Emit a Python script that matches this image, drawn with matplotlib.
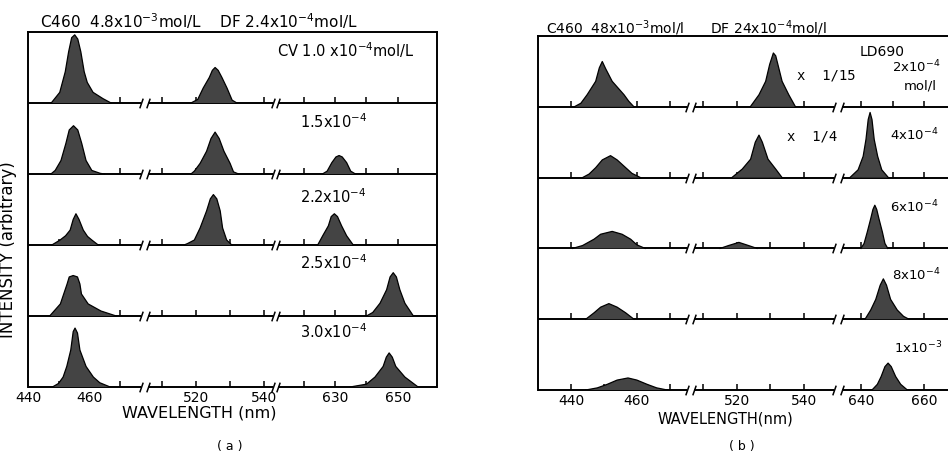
import numpy as np
import matplotlib
matplotlib.use("Agg")
import matplotlib.pyplot as plt
from matplotlib.path import Path

plt.rcParams['font.family'] = ['DejaVu Sans']

# ---------------- data ----------------
# Panel (a): visible wavelength segments (nm) of the broken axis
a_segments = [(440.0, 477.0), (505.9, 542.6), (611.9, 662.4)]
a_small_ticks = [450, 460, 470, 510, 520, 530, 540, 620, 630, 640, 650]
a_tick_labels = [440, 460, 520, 540, 630, 650]
a_row_labels = ["CV 1.0 x10$^{-4}$mol/L", "1.5x10$^{-4}$", "2.2x10$^{-4}$",
                "2.5x10$^{-4}$", "3.0x10$^{-4}$"]

# Panel (a) spectra: wavelength (nm) and intensity (fraction of strip height)
a1_c460_wl = [447.6, 450.4, 452.2, 453.3, 454.3, 455.3, 456.3, 457.3, 458.4, 459.4, 461.3, 464.6, 467.2]
a1_c460_i = [0, 0.15, 0.44, 0.72, 0.92, 0.96, 0.90, 0.72, 0.44, 0.29, 0.15, 0.06, 0]
a1_df_wl = [518.5, 520.5, 522.1, 523.9, 524.8, 525.6, 526.5, 527.6, 529.1, 530.6, 532.0]
a1_df_i = [0, 0.05, 0.21, 0.36, 0.46, 0.50, 0.46, 0.36, 0.21, 0.04, 0]

a2_c460_wl = [447.5, 448.9, 450.8, 452.4, 453.5, 454.9, 456.3, 457.6, 459.0, 460.9, 463.6, 465.0]
a2_c460_i = [0, 0.05, 0.19, 0.43, 0.62, 0.68, 0.62, 0.43, 0.19, 0.05, 0.01, 0]
a2_df_wl = [518.5, 519.5, 521.2, 523.1, 524.4, 525.6, 526.8, 528.2, 530.0, 531.0, 532.5]
a2_df_i = [0, 0.04, 0.15, 0.32, 0.50, 0.59, 0.50, 0.32, 0.15, 0.03, 0]
a2_cv_wl = [626.0, 627.5, 629.0, 630.3, 631.3, 632.3, 633.7, 635.0, 636.5]
a2_cv_i = [0, 0.04, 0.16, 0.24, 0.26, 0.24, 0.16, 0.04, 0]

a3_c460_wl = [447.8, 450.5, 452.3, 453.8, 454.8, 455.7, 456.7, 458.1, 459.5, 460.9, 463.0]
a3_c460_i = [0, 0.07, 0.13, 0.21, 0.36, 0.44, 0.36, 0.21, 0.12, 0.07, 0]
a3_df_wl = [516.5, 517.5, 519.5, 521.2, 523.1, 524.2, 525.1, 526.1, 527.1, 527.8, 529.0, 530.5]
a3_df_i = [0, 0.02, 0.07, 0.24, 0.48, 0.65, 0.71, 0.65, 0.48, 0.24, 0.07, 0]
a3_cv_wl = [624.5, 626.1, 627.9, 628.8, 629.8, 630.8, 632.1, 633.7, 635.8]
a3_cv_i = [0, 0.13, 0.27, 0.40, 0.44, 0.40, 0.27, 0.13, 0]

a4_c460_wl = [447.1, 450.6, 451.7, 452.8, 453.5, 454.8, 456.2, 457.0, 457.5, 459.7, 463.9, 468.9]
a4_c460_i = [0, 0.17, 0.31, 0.45, 0.55, 0.57, 0.55, 0.45, 0.31, 0.17, 0.07, 0]
a4_cv_wl = [640.0, 642.0, 644.3, 646.4, 647.5, 648.5, 649.5, 650.6, 652.2, 654.9]
a4_cv_i = [0, 0.05, 0.18, 0.37, 0.55, 0.61, 0.55, 0.37, 0.18, 0]

a5_c460_wl = [448.0, 450.0, 451.5, 452.7, 454.0, 454.8, 455.4, 456.2, 457.0, 459.0, 461.4, 463.5, 466.9]
a5_c460_i = [0, 0.05, 0.14, 0.29, 0.52, 0.78, 0.83, 0.76, 0.52, 0.29, 0.14, 0.06, 0]
a5_cv_wl = [634.8, 640.0, 642.7, 645.3, 646.3, 647.2, 648.2, 649.3, 652.2, 656.4]
a5_cv_i = [0, 0.04, 0.14, 0.29, 0.42, 0.48, 0.42, 0.29, 0.14, 0]

# Panel (b)
b_segments = [(430.0, 475.2), (507.2, 549.0), (634.0, 667.9)]
b_small_ticks = [440, 450, 460, 470, 510, 520, 530, 540, 640, 650, 660]
b_tick_labels = [440, 460, 520, 540, 640, 660]
b_row_labels = ["2x10$^{-4}$", "4x10$^{-4}$", "6x10$^{-4}$", "8x10$^{-4}$", "1x10$^{-3}$"]

b1_c460_wl = [441.0, 443.0, 444.9, 447.5, 448.6, 449.5, 450.5, 452.5, 456.1, 457.5, 459.1]
b1_c460_i = [0, 0.05, 0.17, 0.36, 0.55, 0.64, 0.54, 0.36, 0.17, 0.08, 0]
b1_df_wl = [524.0, 526.6, 528.6, 529.8, 530.9, 531.6, 532.5, 533.5, 535.5, 537.5]
b1_df_i = [0, 0.17, 0.36, 0.60, 0.76, 0.72, 0.55, 0.36, 0.17, 0]

b2_c460_wl = [443.5, 445.5, 447.5, 449.5, 452.0, 454.0, 456.6, 458.5, 461.1]
b2_c460_i = [0, 0.05, 0.14, 0.25, 0.31, 0.25, 0.14, 0.06, 0]
b2_df_wl = [518.5, 521.6, 524.1, 525.5, 526.6, 527.6, 529.3, 531.6, 533.5]
b2_df_i = [0, 0.12, 0.26, 0.50, 0.60, 0.50, 0.26, 0.12, 0]
b2_ld_wl = [636.5, 639.1, 640.7, 641.6, 642.3, 642.9, 643.5, 644.2, 645.3, 646.6, 648.7]
b2_ld_i = [0, 0.11, 0.30, 0.54, 0.82, 0.92, 0.82, 0.54, 0.30, 0.11, 0]

b3_c460_wl = [440.5, 443.5, 447.0, 449.0, 452.5, 455.5, 458.1, 460.0, 462.5]
b3_c460_i = [0, 0.04, 0.13, 0.20, 0.24, 0.20, 0.13, 0.05, 0]
b3_df_wl = [515.0, 517.5, 520.6, 523.5, 526.0]
b3_df_i = [0, 0.04, 0.085, 0.04, 0]
b3_ld_wl = [640.0, 641.0, 642.0, 643.1, 643.8, 644.4, 645.0, 645.7, 646.8, 647.6, 648.5]
b3_ld_i = [0, 0.07, 0.23, 0.42, 0.55, 0.61, 0.55, 0.42, 0.23, 0.07, 0]

b4_c460_wl = [444.5, 447.0, 449.0, 451.5, 454.0, 456.6, 459.1]
b4_c460_i = [0, 0.09, 0.17, 0.22, 0.17, 0.09, 0]
b4_ld_wl = [641.3, 643.1, 644.7, 646.1, 647.1, 648.1, 649.4, 651.5, 653.5, 655.2]
b4_ld_i = [0, 0.13, 0.28, 0.48, 0.57, 0.48, 0.28, 0.13, 0.04, 0]

b5_c460_wl = [444.5, 448.0, 451.0, 454.0, 457.3, 460.0, 463.1, 466.0, 469.2]
b5_c460_i = [0, 0.03, 0.08, 0.14, 0.17, 0.14, 0.08, 0.03, 0]
b5_ld_wl = [643.5, 645.2, 646.4, 647.6, 648.6, 649.6, 651.0, 652.6, 654.7]
b5_ld_i = [0, 0.08, 0.19, 0.33, 0.38, 0.33, 0.19, 0.08, 0]

a_rows = [
    [(a1_c460_wl, a1_c460_i), (a1_df_wl, a1_df_i)],
    [(a2_c460_wl, a2_c460_i), (a2_df_wl, a2_df_i), (a2_cv_wl, a2_cv_i)],
    [(a3_c460_wl, a3_c460_i), (a3_df_wl, a3_df_i), (a3_cv_wl, a3_cv_i)],
    [(a4_c460_wl, a4_c460_i), (a4_cv_wl, a4_cv_i)],
    [(a5_c460_wl, a5_c460_i), (a5_cv_wl, a5_cv_i)],
]
b_rows = [
    [(b1_c460_wl, b1_c460_i), (b1_df_wl, b1_df_i)],
    [(b2_c460_wl, b2_c460_i), (b2_df_wl, b2_df_i), (b2_ld_wl, b2_ld_i)],
    [(b3_c460_wl, b3_c460_i), (b3_df_wl, b3_df_i), (b3_ld_wl, b3_ld_i)],
    [(b4_c460_wl, b4_c460_i), (b4_ld_wl, b4_ld_i)],
    [(b5_c460_wl, b5_c460_i), (b5_ld_wl, b5_ld_i)],
]

# ---------------- layout ----------------
W, H = 948, 456
FILL = '#444444'
LW = 1.4


def broken_scale(segments, frac_knots):
    wk = np.array([v for s in segments for v in s], float)
    fk = np.array(frac_knots, float)
    s0 = (fk[1] - fk[0]) / (wk[1] - wk[0])
    s1 = (fk[-1] - fk[-2]) / (wk[-1] - wk[-2])

    def fwd(x):
        x = np.asarray(x, float)
        y = np.interp(x, wk, fk)
        y = np.where(x < wk[0], fk[0] + (x - wk[0]) * s0, y)
        y = np.where(x > wk[-1], fk[-1] + (x - wk[-1]) * s1, y)
        return y

    def inv(y):
        y = np.asarray(y, float)
        x = np.interp(y, fk, wk)
        x = np.where(y < fk[0], wk[0] + (y - fk[0]) / s0, x)
        x = np.where(y > fk[-1], wk[-1] + (y - fk[-1]) / s1, x)
        return x
    return fwd, inv


brk = Path([(-0.35, -1.0), (0.35, 1.0)], [Path.MOVETO, Path.LINETO])


def draw_panel(ax, segments, frac_knots, small_ticks, tick_labels, rows):
    fwd, inv = broken_scale(segments, frac_knots)
    ax.set_xscale('function', functions=(fwd, inv))
    ax.set_xlim(segments[0][0], segments[-1][1])
    ax.set_ylim(0, 5)
    for sp in ['left', 'right', 'top']:
        ax.spines[sp].set_linewidth(LW)
    ax.spines['bottom'].set_visible(False)
    ax.set_yticks([])
    ax.set_xticks(tick_labels, [str(t) for t in tick_labels])
    ax.tick_params(axis='x', length=0, pad=2, labelsize=10)
    for y0 in range(5):
        for (s, e) in segments:
            ax.plot([s, e], [y0, y0], color='k', lw=LW, zorder=2,
                    solid_capstyle='butt', clip_on=False)
        ends = [segments[0][1], segments[1][0], segments[1][1], segments[2][0]]
        ax.plot(ends, [y0] * 4, ls='none', marker=brk, ms=7, mec='k',
                mfc='none', mew=1.1, zorder=2, clip_on=False)
        ax.vlines(small_ticks, y0, y0 + 0.085, color='k', lw=1.1, zorder=2)
    for k, peaks in enumerate(rows):
        y0 = 4 - k
        for wl, inten in peaks:
            yy = y0 + np.asarray(inten)
            ax.fill_between(wl, y0, yy, facecolor=FILL, edgecolor='none', zorder=3)
            ax.plot(wl, yy, color='k', lw=0.9, zorder=4)


fig = plt.figure(figsize=(W / 100, H / 100), dpi=100)

# panel (a): box 28..437 px, 33..388 px
axa = fig.add_axes([28 / W, 1 - 388 / H, 409 / W, 355 / H])
draw_panel(axa, a_segments, np.array([0, 113, 120, 245, 250, 409]) / 409,
           a_small_ticks, a_tick_labels, a_rows)
a_label_pos = [(0.609, 4.76), (0.665, 3.75), (0.665, 2.70), (0.665, 1.76), (0.665, 0.79)]
for (x, y), lab in zip(a_label_pos, a_row_labels):
    axa.text(x, y, lab, transform=axa.get_yaxis_transform(), fontsize=10.5,
             va='center', ha='left')
axa.set_xlabel("WAVELENGTH (nm)", fontsize=11.5)
axa.xaxis.set_label_coords(0.418, -0.050)
axa.set_ylabel("INTENSITY (arbitrary)", fontsize=12)
axa.yaxis.set_label_coords(-0.026, 0.39)

# panel (b): box 538..949 px, 37..391 px
axb = fig.add_axes([538 / W, 1 - 391 / H, 411 / W, 354 / H])
draw_panel(axb, b_segments, np.array([0, 149, 156, 296, 304, 411]) / 411,
           b_small_ticks, b_tick_labels, b_rows)
b_label_pos = [(0.862, 4.58), (0.857, 3.62), (0.857, 2.60), (0.862, 1.64), (0.865, 0.61)]
for (x, y), lab in zip(b_label_pos, b_row_labels):
    axb.text(x, y, lab, transform=axb.get_yaxis_transform(), fontsize=9.5,
             va='center', ha='left')
axb.text(0.89, 4.31, "mol/l", transform=axb.get_yaxis_transform(), fontsize=9.5,
         va='center', ha='left')
axb.text(0.783, 4.79, "LD690", transform=axb.get_yaxis_transform(), fontsize=10,
         va='center', ha='left')
axb.text(0.63, 4.46, "x  1/15", transform=axb.get_yaxis_transform(), fontsize=10,
         va='center', ha='left', family='DejaVu Sans Mono')
axb.text(0.605, 3.59, "x  1/4", transform=axb.get_yaxis_transform(), fontsize=10,
         va='center', ha='left', family='DejaVu Sans Mono')
axb.set_xlabel("WAVELENGTH(nm)", fontsize=10.5)
axb.xaxis.set_label_coords(0.455, -0.057)

# titles and panel letters
fig.text(40 / W, 1 - 21 / H, "C460  4.8x10$^{-3}$mol/L    DF 2.4x10$^{-4}$mol/L",
         fontsize=11, va='center', ha='left')
fig.text(546 / W, 1 - 28 / H, "C460  48x10$^{-3}$mol/l      DF 24x10$^{-4}$mol/l",
         fontsize=10, va='center', ha='left')
fig.text(230 / W, 1 - 447 / H, "( a )", fontsize=9, va='center', ha='center')
fig.text(742 / W, 1 - 447 / H, "( b )", fontsize=9, va='center', ha='center')

fig.savefig("out.png", dpi=100)
